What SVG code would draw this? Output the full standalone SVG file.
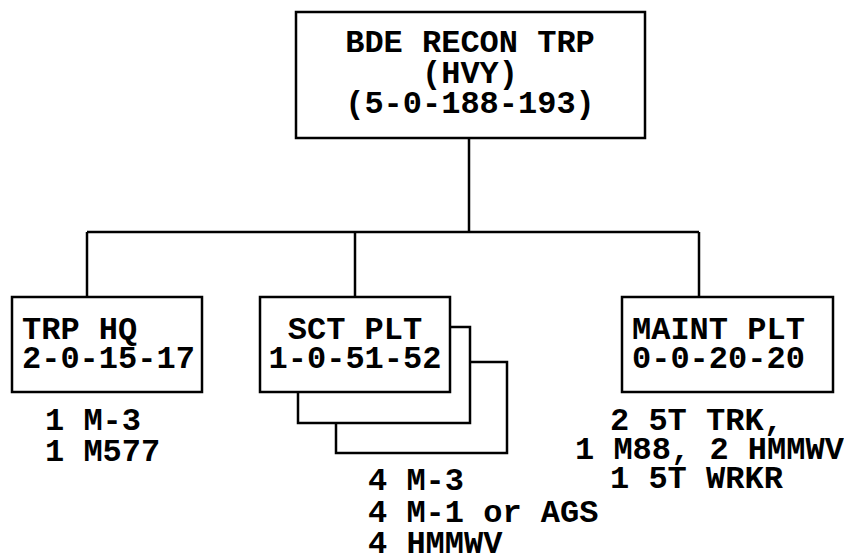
<svg xmlns="http://www.w3.org/2000/svg" width="844" height="559" viewBox="0 0 844 559">
<style>
.box{fill:#fff;stroke:#000;stroke-width:2.5}
.ln{fill:none;stroke:#000;stroke-width:2.5}
text{font-family:"Liberation Mono","Courier New",monospace;font-weight:bold;font-size:32px;fill:#000}
.m{text-anchor:middle}
</style>
<rect width="844" height="559" fill="#fff"/>
<g id="connectors">
<line class="ln" x1="469" y1="138" x2="469" y2="232"/>
<line class="ln" x1="87" y1="232" x2="699" y2="232"/>
<line class="ln" x1="87" y1="232" x2="87" y2="297"/>
<line class="ln" x1="355" y1="232" x2="355" y2="297"/>
<line class="ln" x1="699" y1="232" x2="699" y2="297"/>
</g>
<g id="bde-recon-trp">
<rect class="box" x="296" y="12" width="349" height="126"/>
<text class="m" x="470" y="52">BDE RECON TRP</text>
<text class="m" x="470" y="83">(HVY)</text>
<text class="m" x="470" y="113">(5-0-188-193)</text>
</g>
<g id="trp-hq">
<rect class="box" x="12" y="297" width="190" height="95"/>
<text x="22" y="339">TRP HQ</text>
<text x="22" y="368">2-0-15-17</text>
<text x="45" y="430">1 M-3</text>
<text x="45" y="461">1 M577</text>
</g>
<g id="sct-plt">
<rect class="box" x="336" y="362" width="171" height="91"/>
<rect class="box" x="298" y="327" width="172" height="96"/>
<rect class="box" x="260" y="297" width="190" height="95"/>
<text class="m" x="355" y="339">SCT PLT</text>
<text class="m" x="355" y="368">1-0-51-52</text>
<text x="368" y="490">4 M-3</text>
<text x="368" y="522">4 M-1 or AGS</text>
<text x="368" y="553">4 HMMWV</text>
</g>
<g id="maint-plt">
<rect class="box" x="622" y="297" width="211" height="95"/>
<text x="632" y="339">MAINT PLT</text>
<text x="632" y="368">0-0-20-20</text>
<text x="610" y="430">2 5T TRK,</text>
<text x="575" y="459">1 M88, 2 HMMWV</text>
<text x="610" y="488">1 5T WRKR</text>
</g>
</svg>
